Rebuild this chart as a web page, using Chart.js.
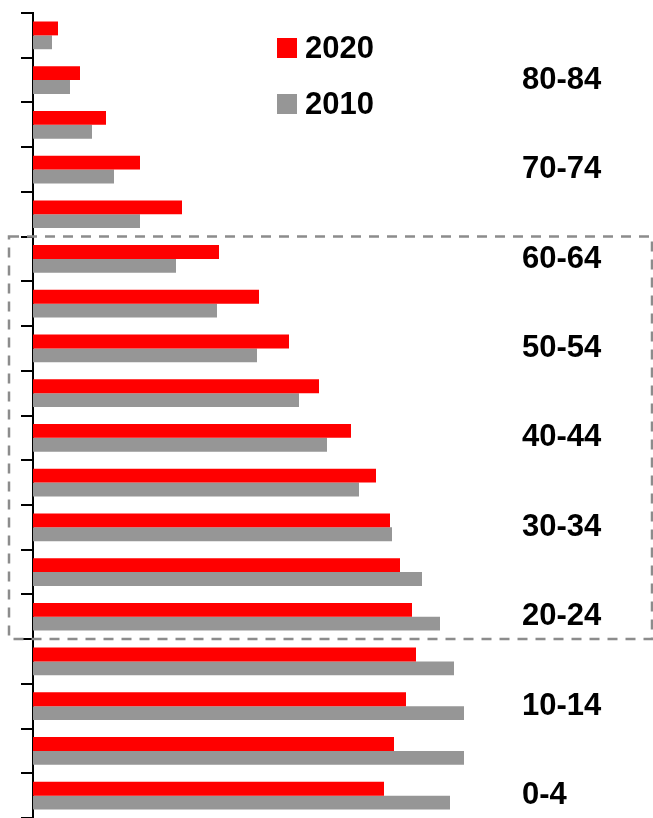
<!DOCTYPE html>
<html>
<head>
<meta charset="utf-8">
<script src="https://cdn.jsdelivr.net/npm/chart.js@4.4.0/dist/chart.umd.min.js"></script>
<style>
  html, body { margin: 0; padding: 0; background: #fff; }
  #wrap { position: relative; width: 653px; height: 818px; }
</style>
</head>
<body>
<div id="wrap"><canvas id="myChart"></canvas></div>
<script>
// age groups, top to bottom
var ageGroups = ['85+', '80-84', '75-79', '70-74', '65-69', '60-64', '55-59', '50-54', '45-49',
                 '40-44', '35-39', '30-34', '25-29', '20-24', '15-19', '10-14', '5-9', '0-4'];
// labels printed on the right side (every other group)
var sideLabels = ['', '80-84', '', '70-74', '', '60-64', '', '50-54', '',
                  '40-44', '', '30-34', '', '20-24', '', '10-14', '', '0-4'];
var pop2020 = [2.5, 4.7, 7.3, 10.7, 14.9, 18.6, 22.6, 25.6, 28.6, 31.8, 34.3, 35.7, 36.7, 37.9, 38.3, 37.3, 36.1, 35.1];
var pop2010 = [1.9, 3.7, 5.9, 8.1, 10.7, 14.3, 18.4, 22.4, 26.6, 29.4, 32.6, 35.9, 38.9, 40.7, 42.1, 43.1, 43.1, 41.7];
// dashed box goes around these groups
var boxFrom = '60-64';
var boxTo = '20-24';

var labelFont = { family: '"Liberation Sans", Arial, sans-serif', size: 31, weight: 'bold' };

var boxAndLegend = {
  id: 'boxAndLegend',
  afterDraw: function (chart) {
    var ctx = chart.ctx;
    var y = chart.scales.y;
    var half = (y.getPixelForValue(1) - y.getPixelForValue(0)) / 2;
    var top = y.getPixelForValue(ageGroups.indexOf(boxFrom)) - half;
    var bottom = y.getPixelForValue(ageGroups.indexOf(boxTo)) + half;

    ctx.save();
    ctx.setLineDash([10, 8]);
    ctx.lineWidth = 2.5;
    ctx.strokeStyle = '#8c8c8c';
    ctx.strokeRect(9, top, 643, bottom - top);
    ctx.restore();

    // legend
    ctx.save();
    ctx.font = 'bold 31px "Liberation Sans", Arial, sans-serif';
    ctx.textBaseline = 'middle';
    ctx.textAlign = 'left';
    chart.data.datasets.forEach(function (ds, i) {
      var ly = 38 + i * 56;
      ctx.fillStyle = ds.backgroundColor;
      ctx.fillRect(277, ly, 20, 20);
      ctx.fillStyle = '#000';
      ctx.fillText(ds.label, 305, ly + 11);
    });
    ctx.restore();
  }
};

var chart = new Chart(document.getElementById('myChart'), {
  type: 'bar',
  data: {
    labels: ageGroups,
    datasets: [
      { label: '2020', data: pop2020, backgroundColor: '#ff0000', categoryPercentage: 0.62, barPercentage: 1.0 },
      { label: '2010', data: pop2010, backgroundColor: '#969696', categoryPercentage: 0.62, barPercentage: 1.0 }
    ]
  },
  options: {
    indexAxis: 'y',
    responsive: true,
    maintainAspectRatio: false,
    animation: false,
    layout: { padding: { left: 21, top: 13, right: 0, bottom: 0 } },
    plugins: { legend: { display: false }, tooltip: { enabled: false } },
    scales: {
      x: { display: false, min: 0, max: 48.9 },
      y: {
        position: 'left',
        offset: true,
        grid: { offset: true, drawOnChartArea: false, color: '#000', lineWidth: 2, tickLength: 12 },
        border: { color: '#000', width: 2 },
        ticks: { display: false }
      },
      y2: {
        type: 'category',
        labels: sideLabels,
        position: 'right',
        offset: true,
        grid: { display: false, drawTicks: false },
        border: { display: false },
        ticks: { color: '#000', font: labelFont, padding: 0, autoSkip: false },
        afterFit: function (scale) {
          scale.width = 131;
          scale.paddingTop = 0;
          scale.paddingBottom = 0;
        }
      }
    }
  },
  plugins: [boxAndLegend]
});
</script>
</body>
</html>
